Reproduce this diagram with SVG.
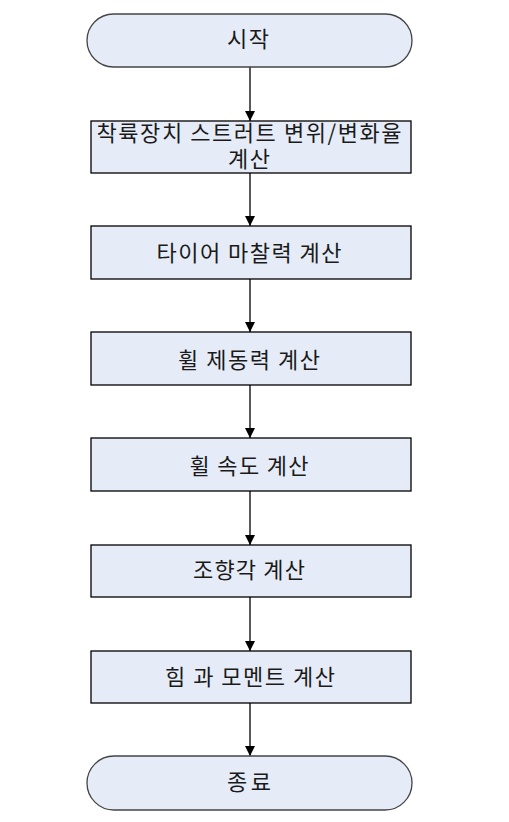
<svg xmlns="http://www.w3.org/2000/svg" width="509" height="822" viewBox="0 0 509 822">
<style>
.n{fill:#E6ECF7;stroke:#000;stroke-width:1.3}
.t{fill:#E6ECF7;stroke:#444;stroke-width:1.3}
text{font-family:"Noto Sans CJK KR","Noto Sans",sans-serif;font-size:22px;fill:#1a1a1a;text-anchor:middle}
.c{stroke:#000;stroke-width:1.3;fill:none;marker-end:url(#a)}
</style>
<defs><marker id="a" markerWidth="10" markerHeight="10" refX="10" refY="5" orient="auto" markerUnits="userSpaceOnUse"><path d="M0,0L10,5L0,10z" fill="#000"/></marker></defs>
<rect width="509" height="822" fill="#fff"/>
<g id="connectors">
<line class="c" x1="250" y1="67" x2="250" y2="121"/>
<line class="c" x1="250" y1="173" x2="250" y2="226"/>
<line class="c" x1="250" y1="279" x2="250" y2="332"/>
<line class="c" x1="250" y1="385" x2="250" y2="438"/>
<line class="c" x1="250" y1="491" x2="250" y2="545"/>
<line class="c" x1="250" y1="597" x2="250" y2="651"/>
<line class="c" x1="250" y1="703" x2="250" y2="756"/>
</g>
<g id="start"><rect class="t" x="87" y="14" width="325" height="53" rx="26.5"/><text x="248" y="47" textLength="42" lengthAdjust="spacing">시작</text></g>
<g id="n1"><rect class="n" x="91" y="121" width="320" height="52"/><text x="249" y="141" textLength="305" lengthAdjust="spacing">착륙장치 스트러트 변위/변화율</text><text x="249" y="167" textLength="42" lengthAdjust="spacing">계산</text></g>
<g id="n2"><rect class="n" x="91" y="226" width="320" height="53"/><text x="249" y="261" textLength="185" lengthAdjust="spacing">타이어 마찰력 계산</text></g>
<g id="n3"><rect class="n" x="91" y="332" width="320" height="53"/><text x="249" y="368" textLength="142" lengthAdjust="spacing">휠 제동력 계산</text></g>
<g id="n4"><rect class="n" x="91" y="438" width="320" height="53"/><text x="249" y="474" textLength="119" lengthAdjust="spacing">휠 속도 계산</text></g>
<g id="n5"><rect class="n" x="91" y="545" width="320" height="52"/><text x="249" y="578" textLength="112" lengthAdjust="spacing">조향각 계산</text></g>
<g id="n6"><rect class="n" x="91" y="651" width="320" height="52"/><text x="250" y="685" textLength="170" lengthAdjust="spacing">힘 과 모멘트 계산</text></g>
<g id="end"><rect class="t" x="87" y="756" width="325" height="54" rx="27"/><text x="249" y="790" textLength="44" lengthAdjust="spacing">종료</text></g>
</svg>
